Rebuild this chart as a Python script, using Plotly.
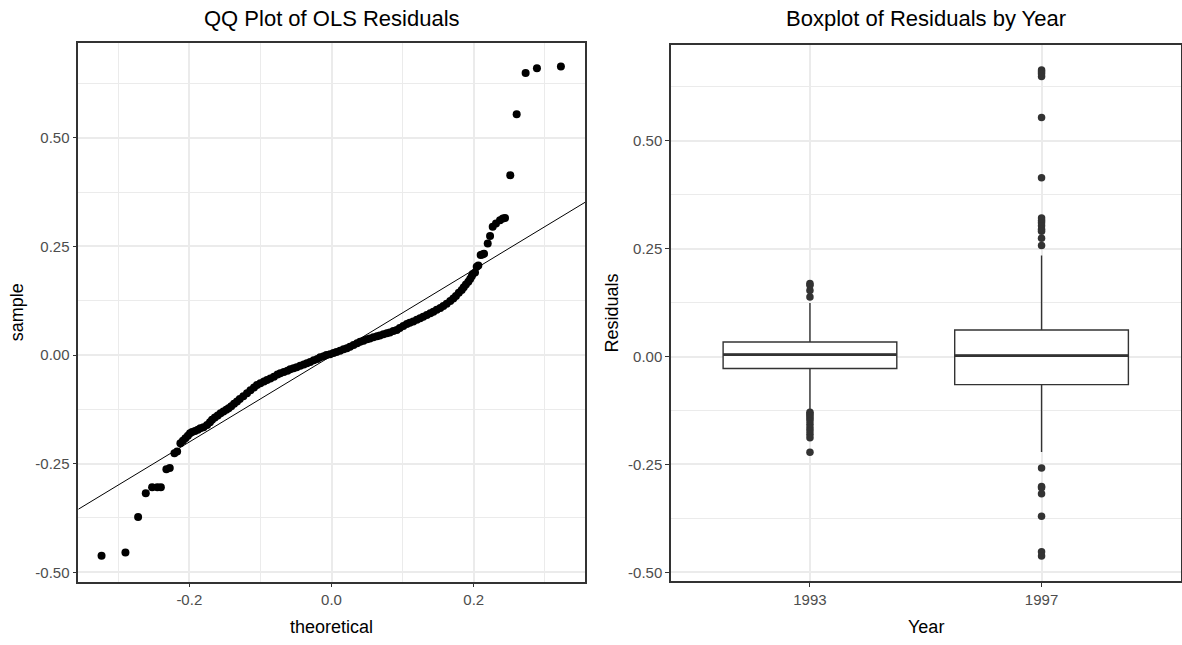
import plotly.graph_objects as go

W, H = 1182, 645

# ---------------- QQ plot data (theoretical quantile, sample residual) -------------
theoretical = [
    -0.3234, -0.2898, -0.2720, -0.2612, -0.2523, -0.2450, -0.2400, -0.2322, -0.2275,
    -0.2209, -0.2171,
    -0.2125, -0.2090, -0.2055, -0.2020, -0.1990, -0.1960, -0.1920, -0.1880, -0.1844,
    -0.1800, -0.1750, -0.1710, -0.1680, -0.1640, -0.1600, -0.1560, -0.1520, -0.1480,
    -0.1447, -0.1410, -0.1370, -0.1329, -0.1290, -0.1240, -0.1188, -0.1140, -0.1090,
    -0.1048, -0.1000, -0.0950, -0.0907, -0.0860, -0.0810, -0.0760, -0.0720, -0.0670,
    -0.0620, -0.0580, -0.0534, -0.0490, -0.0440, -0.0390, -0.0346, -0.0300, -0.0250,
    -0.0200, -0.0159, -0.0110, -0.0070, -0.0020, 0.0028, 0.0070, 0.0120, 0.0170,
    0.0216, 0.0260, 0.0310, 0.0360, 0.0403, 0.0450, 0.0500, 0.0540, 0.0590, 0.0640,
    0.0680, 0.0730, 0.0778, 0.0820, 0.0870, 0.0918, 0.0960, 0.1010, 0.1059, 0.1100,
    0.1150, 0.1200, 0.1246, 0.1290, 0.1340, 0.1390, 0.1433, 0.1480, 0.1530, 0.1573,
    0.1620, 0.1670, 0.1713, 0.1750, 0.1790, 0.1831, 0.1860, 0.1890, 0.1924, 0.1950,
    0.1972, 0.1986, 0.2018, 0.2042, 0.2065, 0.2098, 0.2121, 0.2145, 0.2197, 0.2230,
    0.2267, 0.2313, 0.2370, 0.2410, 0.2440, 0.2514, 0.2604, 0.2730, 0.2889, 0.3226,
]
sample = [
    -0.4620, -0.4545, -0.3730, -0.3180, -0.3040, -0.3040, -0.3040, -0.2630, -0.2600,
    -0.2260, -0.2220,
    -0.2030, -0.1970, -0.1915, -0.1860, -0.1800, -0.1770, -0.1750, -0.1720, -0.1686,
    -0.1660, -0.1610, -0.1550, -0.1490, -0.1440, -0.1390, -0.1340, -0.1300, -0.1260,
    -0.1226, -0.1180, -0.1120, -0.1070, -0.1010, -0.0950, -0.0880, -0.0810, -0.0750,
    -0.0690, -0.0650, -0.0610, -0.0575, -0.0540, -0.0500, -0.0450, -0.0420, -0.0390,
    -0.0360, -0.0330, -0.0306, -0.0280, -0.0250, -0.0220, -0.0190, -0.0160, -0.0120,
    -0.0090, -0.0053, -0.0030, 0.0000, 0.0020, 0.0045, 0.0070, 0.0100, 0.0130,
    0.0154, 0.0190, 0.0230, 0.0270, 0.0306, 0.0330, 0.0360, 0.0380, 0.0407, 0.0430,
    0.0450, 0.0480, 0.0500, 0.0520, 0.0550, 0.0575, 0.0620, 0.0670, 0.0713, 0.0740,
    0.0770, 0.0810, 0.0844, 0.0880, 0.0920, 0.0960, 0.0996, 0.1040, 0.1080, 0.1126,
    0.1180, 0.1240, 0.1303, 0.1360, 0.1430, 0.1494, 0.1560, 0.1620, 0.1686, 0.1750,
    0.1810, 0.1862, 0.1900, 0.2030, 0.2060, 0.2300, 0.2310, 0.2330, 0.2567, 0.2736,
    0.2950, 0.3027, 0.3100, 0.3140, 0.3155, 0.4138, 0.5540, 0.6490, 0.6600, 0.6637,
]
qq_slope = 0.991
qq_intercept = -0.002

# ---------------- Boxplot data -------------
years = ["1993", "1997"]
box_q1 = [-0.0276, -0.0650]
box_median = [0.0046, 0.0023]
box_q3 = [0.0338, 0.0614]
box_lower = [-0.1226, -0.2210]
box_upper = [0.1240, 0.2340]
outliers_1993 = [0.169, 0.165, 0.153, 0.138, -0.129, -0.133, -0.138, -0.143, -0.149,
                 -0.157, -0.165, -0.172, -0.180, -0.188, -0.222]
outliers_1997 = [0.664, 0.660, 0.655, 0.649, 0.554, 0.414, 0.321, 0.315, 0.310, 0.303,
                 0.295, 0.290, 0.274, 0.257, -0.258, -0.301, -0.304, -0.318, -0.370,
                 -0.452, -0.462]

# ---------------- layout geometry (pixels) -------------
L_X0, L_X1 = 78.3, 585.0
R_X0, R_X1 = 671.0, 1180.5
L_Y0, L_Y1 = 42.7, 581.7   # top, bottom
R_Y0, R_Y1 = 45.0, 581.0
left_xrange = [-0.3561, 0.3565]
left_yrange = [-0.5216, 0.7186]
right_yrange = [-0.520, 0.7217]
right_xrange = [0.4, 2.6]
box_width = 0.75

FONT = "Liberation Sans, Arial, Helvetica, sans-serif"
GRID = "#EBEBEB"
DARK = "#333333"


def px_x(p):
    return p / W


def px_y(p):
    return 1 - p / H


fig = go.Figure()

# QQ points
fig.add_trace(go.Scatter(
    x=theoretical, y=sample, mode="markers",
    marker=dict(color="black", size=8, line=dict(width=0)),
    xaxis="x", yaxis="y", showlegend=False, hoverinfo="x+y"))

# QQ reference line across the whole panel
fig.add_trace(go.Scatter(
    x=left_xrange, y=[qq_slope * v + qq_intercept for v in left_xrange],
    mode="lines", line=dict(color="black", width=1),
    xaxis="x", yaxis="y", showlegend=False, hoverinfo="skip"))

# Boxplots
positions = [i + 1 for i in range(len(years))]
fig.add_trace(go.Box(
    x=positions, q1=box_q1, median=box_median, q3=box_q3,
    lowerfence=box_lower, upperfence=box_upper,
    width=box_width, whiskerwidth=0, boxpoints=False,
    fillcolor="white", line=dict(color=DARK, width=1.4),
    xaxis="x2", yaxis="y2", showlegend=False))

# thicker median lines (ggplot fatten)
for pos, med in zip(positions, box_median):
    fig.add_trace(go.Scatter(
        x=[pos - box_width / 2, pos + box_width / 2], y=[med, med],
        mode="lines", line=dict(color=DARK, width=2.8),
        xaxis="x2", yaxis="y2", showlegend=False, hoverinfo="skip"))

# outliers
for pos, outs in zip(positions, [outliers_1993, outliers_1997]):
    fig.add_trace(go.Scatter(
        x=[pos] * len(outs), y=outs, mode="markers",
        marker=dict(color=DARK, size=7.5, line=dict(width=0)),
        xaxis="x2", yaxis="y2", showlegend=False))

axis_common = dict(
    showline=True, mirror=True, linecolor=DARK, linewidth=1.5,
    ticks="outside", ticklen=4, tickcolor=DARK, tickwidth=1.1,
    tickfont=dict(family=FONT, size=15, color="#4D4D4D"),
    showgrid=True, gridcolor=GRID, gridwidth=1.6, zeroline=False,
)

fig.update_layout(
    width=W, height=H, autosize=False,
    margin=dict(l=0, r=0, t=0, b=0),
    paper_bgcolor="white", plot_bgcolor="white",
    showlegend=False,
    xaxis=dict(domain=[px_x(L_X0), px_x(L_X1)], range=left_xrange,
               tickvals=[-0.2, 0.0, 0.2], ticktext=["-0.2", "0.0", "0.2"],
               minor=dict(tickvals=[-0.3, -0.1, 0.1, 0.3], showgrid=True,
                          gridcolor=GRID, gridwidth=1.3, ticks=""),
               anchor="y", **axis_common),
    yaxis=dict(domain=[px_y(L_Y1), px_y(L_Y0)], range=left_yrange,
               tickvals=[-0.5, -0.25, 0, 0.25, 0.5],
               ticktext=["-0.50", "-0.25", "0.00", "0.25", "0.50"],
               minor=dict(tickvals=[-0.375, -0.125, 0.125, 0.375, 0.625], showgrid=True,
                          gridcolor=GRID, gridwidth=1.3, ticks=""),
               anchor="x", **axis_common),
    xaxis2=dict(domain=[px_x(R_X0), px_x(R_X1)], range=right_xrange,
                tickvals=positions, ticktext=years,
                anchor="y2", **axis_common),
    yaxis2=dict(domain=[px_y(R_Y1), px_y(R_Y0)], range=right_yrange,
                tickvals=[-0.5, -0.25, 0, 0.25, 0.5],
                ticktext=["-0.50", "-0.25", "0.00", "0.25", "0.50"],
                minor=dict(tickvals=[-0.375, -0.125, 0.125, 0.375, 0.625], showgrid=True,
                           gridcolor=GRID, gridwidth=1.3, ticks=""),
                anchor="x2", **axis_common),
)

ann_font_title = dict(family=FONT, size=22, color="black")
ann_font_axis = dict(family=FONT, size=18, color="black")
annotations = [
    dict(text="QQ Plot of OLS Residuals", x=px_x((L_X0 + L_X1) / 2), y=px_y(19),
         font=ann_font_title),
    dict(text="Boxplot of Residuals by Year", x=px_x((R_X0 + R_X1) / 2), y=px_y(19),
         font=ann_font_title),
    dict(text="theoretical", x=px_x((L_X0 + L_X1) / 2), y=px_y(627), font=ann_font_axis),
    dict(text="sample", x=px_x(17), y=px_y((L_Y0 + L_Y1) / 2), textangle=-90,
         font=ann_font_axis),
    dict(text="Year", x=px_x((R_X0 + R_X1) / 2), y=px_y(627), font=ann_font_axis),
    dict(text="Residuals", x=px_x(611.5), y=px_y((R_Y0 + R_Y1) / 2), textangle=-90,
         font=ann_font_axis),
]
for a in annotations:
    a.update(xref="paper", yref="paper", showarrow=False,
             xanchor="center", yanchor="middle")
fig.update_layout(annotations=annotations)

fig.write_html("out.html")
